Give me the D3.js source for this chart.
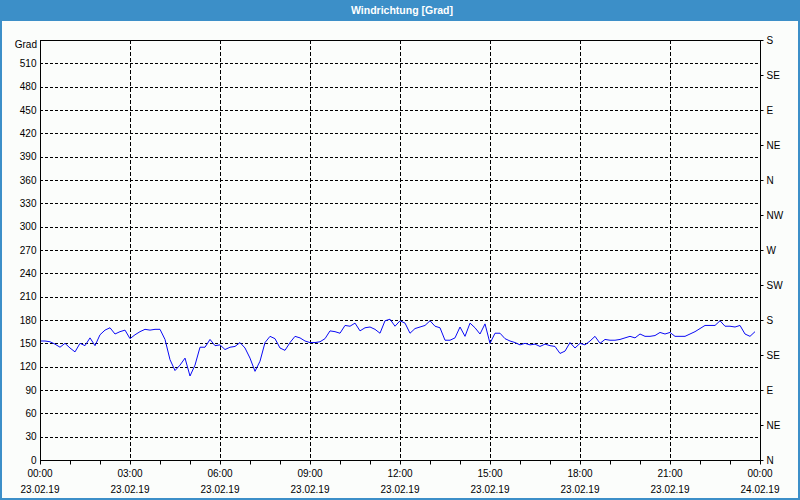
<!DOCTYPE html>
<html>
<head>
<meta charset="utf-8">
<script src="https://cdnjs.cloudflare.com/ajax/libs/d3/7.8.5/d3.min.js"></script>
<style>
	body { margin: 0; background: #ffffff; }
	svg { display: block; font-family: "Liberation Sans", Arial, sans-serif; }
</style>
</head>
<body>
<svg width="800" height="500"></svg>
<script>
var chartTitle = "Windrichtung [Grad]";
var unitLabel = "Grad";
var startTime = new Date(2019, 1, 23, 0, 0);
var endTime = new Date(2019, 1, 24, 0, 0);
var stepMinutes = 10;

// wind direction, one value every 10 minutes
var directions = [
	153, 153, 152, 149, 145, 150, 144, 139, 150, 147, 157, 147,
	161, 167, 170, 162, 165, 167, 156, 161, 165, 168, 167, 168,
	168, 155, 129, 115, 122, 131, 108, 122, 145, 145, 155, 147,
	148, 142, 145, 146, 151, 144, 131, 114, 127, 151, 159, 156,
	144, 141, 151, 159, 157, 153, 151, 151, 152, 156, 166, 165,
	163, 173, 172, 176, 166, 170, 171, 168, 163, 179, 181, 172,
	179, 176, 163, 169, 171, 173, 179, 172, 170, 154, 154, 157,
	171, 159, 176, 170, 162, 175, 150, 163, 163, 156, 153, 151,
	148, 150, 148, 149, 146, 149, 147, 146, 137, 140, 151, 144,
	150, 148, 153, 159, 150, 155, 154, 154, 155, 157, 159, 157,
	162, 159, 159, 160, 164, 162, 164, 159, 159, 159, 162, 165,
	169, 173, 173, 173, 179, 172, 172, 171, 173, 162, 159, 165
];

var gradTicks = [0, 30, 60, 90, 120, 150, 180, 210, 240, 270, 300, 330, 360, 390, 420, 450, 480, 510];
var compassTicks = [0, 45, 90, 135, 180, 225, 270, 315, 360, 405, 450, 495, 540];
var compassLabels = ["N", "NE", "E", "SE", "S", "SW", "W", "NW", "N", "NE", "E", "SE", "S"];

var width = 800;
var height = 500;
var margin = {top: 40, right: 40, bottom: 40, left: 40};

var canvas = d3.select("svg");

// window frame
canvas.append("rect")
	.attr("x", 0).attr("y", 0)
	.attr("width", width).attr("height", height)
	.style("fill", "#3c8fc8");
canvas.append("rect")
	.attr("x", 2).attr("y", 21)
	.attr("width", width - 4).attr("height", height - 23)
	.style("fill", "#fbfdfb");
canvas.append("text")
	.attr("x", width / 2 + 2)
	.attr("y", 14)
	.attr("text-anchor", "middle")
	.style("fill", "#ffffff")
	.style("font-weight", "bold")
	.style("font-size", "10.5px")
	.text(chartTitle);

var x = d3.scaleTime()
	.domain([startTime, endTime])
	.range([margin.left, width - margin.right]);

var y = d3.scaleLinear()
	.domain([0, 540])
	.range([height - margin.bottom, margin.top]);

var data = directions.map(function(v, i) {
	return {time: d3.timeMinute.offset(startTime, i * stepMinutes), value: v};
});

// grid
var grid = canvas.append("g");
grid.selectAll(".hgrid")
	.data(gradTicks.filter(function(d) { return d > 0; }))
	.enter()
	.append("line")
	.attr("class", "hgrid")
	.attr("x1", margin.left)
	.attr("x2", width - margin.right)
	.attr("y1", function(d) { return Math.round(y(d)) + 0.5; })
	.attr("y2", function(d) { return Math.round(y(d)) + 0.5; })
	.style("stroke", "#000")
	.style("stroke-dasharray", "3,2");

grid.selectAll(".vgrid")
	.data(d3.timeHour.every(3).range(d3.timeHour.offset(startTime, 3), endTime))
	.enter()
	.append("line")
	.attr("class", "vgrid")
	.attr("x1", function(d) { return Math.round(x(d)) + 0.5; })
	.attr("x2", function(d) { return Math.round(x(d)) + 0.5; })
	.attr("y1", margin.top)
	.attr("y2", height - margin.bottom)
	.style("stroke", "#000")
	.style("stroke-dasharray", "4,2");

// frame top
canvas.append("line")
	.attr("x1", margin.left).attr("x2", width - margin.right)
	.attr("y1", margin.top + 0.5).attr("y2", margin.top + 0.5)
	.style("stroke", "#000");

// data line
var line = d3.line()
	.x(function(d) { return x(d.time); })
	.y(function(d) { return y(d.value); });

canvas.append("path")
	.datum(data)
	.attr("d", line)
	.style("fill", "none")
	.style("stroke", "#0a0af5")
	.style("stroke-width", 1);

// left axis
var leftAxis = canvas.append("g")
	.attr("transform", "translate(" + (margin.left + 0.5) + ",0)")
	.call(d3.axisLeft(y).tickValues(gradTicks).tickSize(0).tickPadding(4));
leftAxis.select(".domain").attr("d", "M0," + margin.top + "V" + (height - margin.bottom));

canvas.append("text")
	.attr("x", margin.left - 3)
	.attr("y", margin.top + 8)
	.attr("text-anchor", "end")
	.style("font-size", "10px")
	.text(unitLabel);

// right axis
var rightAxis = canvas.append("g")
	.attr("transform", "translate(" + (width - margin.right + 0.5) + ",0)")
	.call(d3.axisRight(y).tickValues(compassTicks).tickSize(3).tickPadding(3)
		.tickFormat(function(d, i) { return compassLabels[i]; }));
rightAxis.select(".domain").attr("d", "M0," + margin.top + "V" + (height - margin.bottom));

// bottom axis, hourly minor ticks
var minorAxis = canvas.append("g")
	.attr("transform", "translate(0," + (height - margin.bottom + 0.5) + ")")
	.call(d3.axisBottom(x).ticks(d3.timeHour.every(1)).tickSize(4).tickFormat(""));
minorAxis.select(".domain").attr("d", "M" + margin.left + ",0H" + (width - margin.right + 3));

var fmtTime = d3.timeFormat("%H:%M");
var fmtDate = d3.timeFormat("%d.%m.%y");

var bottomLabels = canvas.append("g")
	.selectAll(".xlabel")
	.data(d3.timeHour.every(3).range(startTime, d3.timeMinute.offset(endTime, 1)))
	.enter()
	.append("text")
	.attr("class", "xlabel")
	.attr("text-anchor", "middle")
	.style("font-size", "10px");
bottomLabels.append("tspan")
	.attr("x", function(d) { return x(d); })
	.attr("y", height - margin.bottom + 17)
	.text(fmtTime);
bottomLabels.append("tspan")
	.attr("x", function(d) { return x(d); })
	.attr("y", height - margin.bottom + 33)
	.text(fmtDate);

canvas.selectAll(".tick text").style("font-size", "10px").style("fill", "#000");
canvas.selectAll(".domain, .tick line").style("stroke", "#000");
</script>
</body>
</html>
